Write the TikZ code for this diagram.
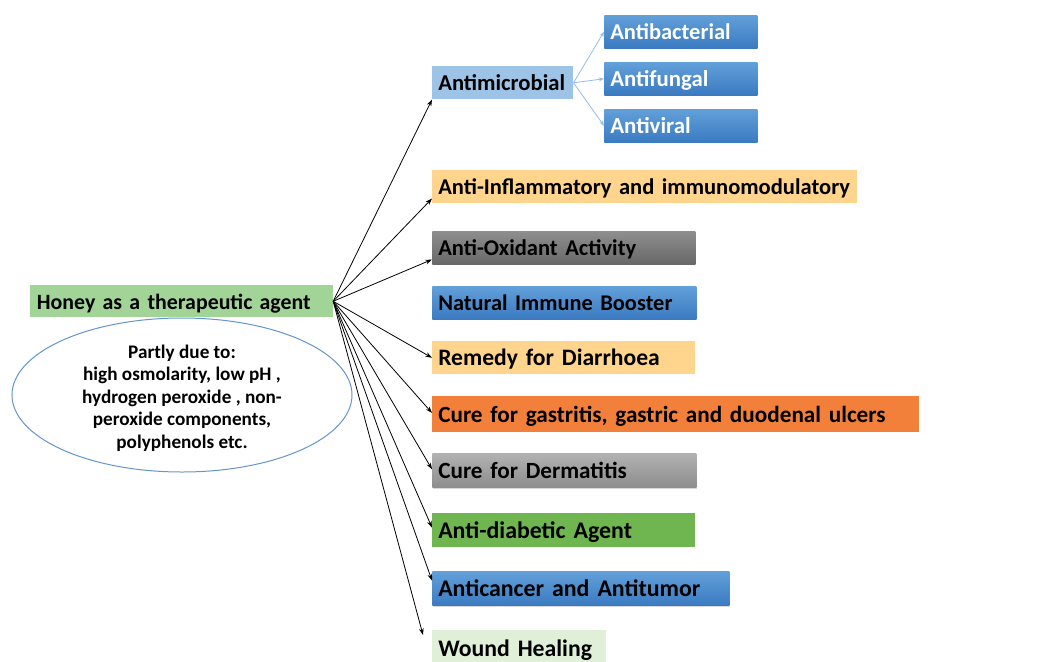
\documentclass[tikz,border=0pt]{standalone}
\usepackage{fontspec}
\setmainfont{Carlito}
\usetikzlibrary{arrows.meta,shadows,shapes.geometric}
\definecolor{honeygreen}{RGB}{162,212,152}
\definecolor{lightblue}{RGB}{157,195,230}
\definecolor{bluetop}{RGB}{98,160,218}
\definecolor{bluebot}{RGB}{58,122,192}
\definecolor{lightorange}{RGB}{255,213,142}
\definecolor{orange}{RGB}{243,128,58}
\definecolor{darkgraytop}{RGB}{142,142,142}
\definecolor{darkgraybot}{RGB}{104,104,104}
\definecolor{graytop}{RGB}{178,178,178}
\definecolor{graybot}{RGB}{140,140,140}
\definecolor{diabgreen}{RGB}{112,182,80}
\definecolor{woundgreen}{RGB}{223,239,216}
\definecolor{ellblue}{RGB}{100,150,205}
\definecolor{sublink}{RGB}{150,190,230}
\begin{document}
\begin{tikzpicture}[x=0.75pt,y=-0.75pt,
  fs/.style={font=\bfseries\fontsize{#1}{19}\selectfont},
  base/.style={anchor=north west, inner xsep=4.5pt, inner ysep=0pt,
    text height=14.5pt, text depth=2.5pt,
    minimum height=24.75pt, align=left, fs=17.3},
  blueshade/.style={top color=bluetop, bottom color=bluebot, text=white,
    drop shadow={shadow xshift=0.8pt, shadow yshift=-0.8pt, opacity=0.3}},
  dgshade/.style={top color=darkgraytop, bottom color=darkgraybot,
    drop shadow={shadow xshift=0.8pt, shadow yshift=-0.8pt, opacity=0.3}},
  gshade/.style={top color=graytop, bottom color=graybot,
    drop shadow={shadow xshift=0.8pt, shadow yshift=-0.8pt, opacity=0.3}},
  arr/.style={draw=black, line width=0.6pt, -{Stealth[length=5pt,width=3.5pt]}},
  subarr/.style={draw=sublink, line width=0.6pt, -{Stealth[length=4pt,width=3pt]}},
]
\useasboundingbox (0,0) rectangle (1042,661);
\clip (0,0) rectangle (1042,661);
\fill[white] (0,0) rectangle (1042,661);

% main node
\node[base, fill=honeygreen, minimum height=24pt, inner xsep=5pt, text width=217pt, fs=16.4]
  (honey) at (30,285) {\mbox{Honey as a therapeutic agent}};
\node[ellipse, draw=ellblue, line width=0.75pt, minimum width=255pt, minimum height=115.5pt] (ell) at (182,395) {};
\node[align=center, inner sep=0pt, font=\bfseries\fontsize{14.4}{16.9}\selectfont] (elltxt) at (182,398)
  {Partly due to:\\high osmolarity, low pH ,\\hydrogen peroxide , non-\\peroxide components,\\polyphenols etc.};

% targets
\node[base, fill=lightblue, text width=96.75pt, fs=17.0] (am) at (432,66) {\mbox{Antimicrobial}};
\node[base, blueshade, text width=105.75pt, fs=16.9] (ab) at (604,15) {\mbox{Antibacterial}};
\node[base, blueshade, text width=105.75pt, fs=17.1] (af) at (604,62) {\mbox{Antifungal}};
\node[base, blueshade, text width=105.75pt, fs=17.2] (av) at (604,109) {\mbox{Antiviral}};
\node[base, fill=lightorange, text width=309.75pt, fs=16.9] (inf) at (432,170) {\mbox{Anti-Inflammatory and immunomodulatory}};
\node[base, dgshade, text width=188.25pt, fs=16.9] (ox) at (432,231) {\mbox{Anti-Oxidant Activity}};
\node[base, blueshade, text=black, text width=189pt, fs=16.8] (nib) at (432,286) {\mbox{Natural Immune Booster}};
\node[base, fill=lightorange, text width=188.25pt, fs=17.7] (rem) at (432,341) {\mbox{Remedy for Diarrhoea}};
\node[base, fill=orange, minimum height=27pt, text width=356.25pt, fs=17.4] (gas) at (432,396) {\mbox{Cure for gastritis, gastric and duodenal ulcers}};
\node[base, gshade, minimum height=26pt, text width=189pt, fs=17.4] (der) at (432,453) {\mbox{Cure for Dermatitis}};
\node[base, fill=diabgreen, minimum height=25.5pt, text width=188.25pt, fs=17.9] (dia) at (432,513) {\mbox{Anti-diabetic Agent}};
\node[base, blueshade, text=black, minimum height=26pt, text width=213.75pt, fs=17.9] (can) at (432,571) {\mbox{Anticancer and Antitumor}};
\node[base, fill=woundgreen, minimum height=27pt, text width=121.5pt, fs=17.8] (wou) at (432,630) {\mbox{Wound Healing}};

% sub connectors
\draw[subarr] (am.east) -- (ab.west);
\draw[subarr] (am.east) -- (af.west);
\draw[subarr] (am.east) -- (av.west);

% main connectors
\draw[arr] (honey.east) -- (am.south west);
\draw[arr] (honey.east) -- ([yshift=3.75pt]inf.south west);
\draw[arr] (honey.east) -- ([yshift=3.75pt]ox.south west);
\draw[arr] (honey.east) -- (rem.west);
\draw[arr] (honey.east) -- ([yshift=1pt]gas.west);
\draw[arr] (honey.east) -- ([yshift=1pt]der.west);
\draw[arr] (honey.east) -- ([yshift=2pt]dia.west);
\draw[arr] (honey.east) -- ([yshift=6pt]can.west);
\coordinate (wtip) at ([xshift=-6.75pt,yshift=-3.75pt]wou.north west);
\draw[arr] (honey.east) -- (wtip);
\end{tikzpicture}
\end{document}
